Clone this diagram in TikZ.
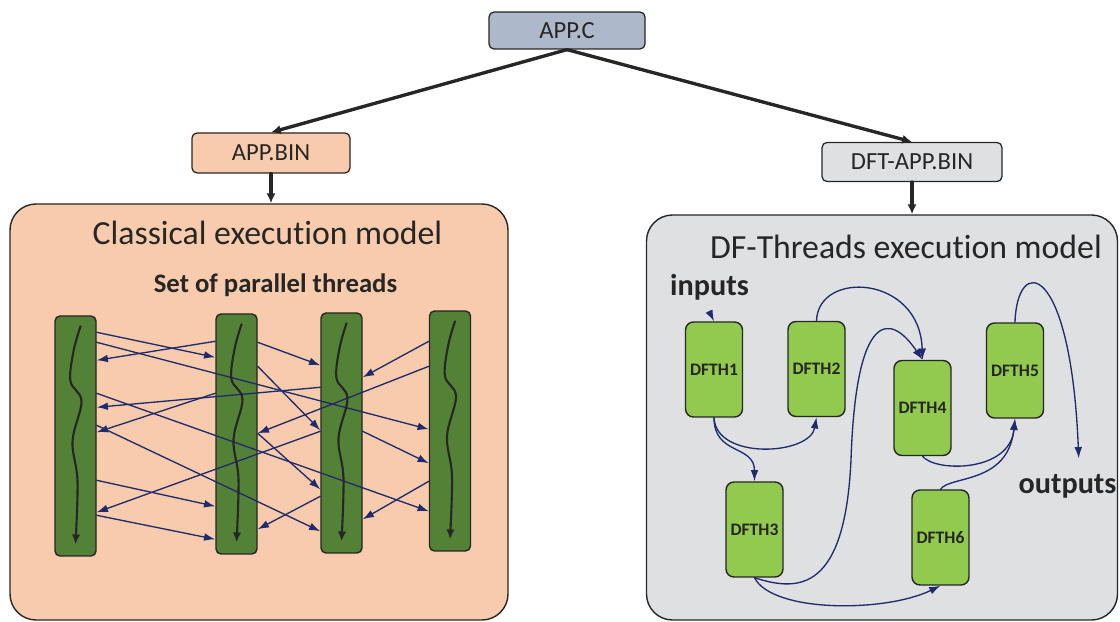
\documentclass[tikz,border=0pt]{standalone}
\usepackage{fontspec}
\setmainfont{Carlito}[Ligatures=NoCommon]
\usetikzlibrary{calc,positioning,arrows.meta}

\definecolor{peach}{HTML}{F8CBAD}
\definecolor{slate}{HTML}{ADB9CA}
\definecolor{panelgray}{HTML}{DFE0E2}
\definecolor{bargreen}{HTML}{538135}
\definecolor{dfgreen}{HTML}{92C94F}
\definecolor{navy}{HTML}{1F2B6C}
\definecolor{ink}{HTML}{262626}

\newlength\pu
\setlength\pu{0.025cm}

\tikzset{
  filebox/.style={draw=ink, line width=0.9pt, rounded corners=5\pu, text=ink,
    font=\fontsize{17.5}{20}\selectfont, inner sep=0pt},
  panel/.style={draw=ink, line width=1pt, rounded corners=26\pu, inner sep=0pt},
  bar/.style={draw=ink, fill=bargreen, line width=1pt, rounded corners=5\pu,
    minimum width=41\pu, minimum height=240\pu, inner sep=0pt},
  wiggle/.style={ink, line width=1.5pt, -{Latex[length=7pt,width=6pt]}},
  hop/.style={navy, line width=0.95pt, -{Latex[length=8pt,width=5.5pt]}},
  dfth/.style={draw=ink, fill=dfgreen, line width=1pt, rounded corners=8\pu,
    minimum width=57\pu, minimum height=95\pu, inner sep=0pt, text=ink,
    font=\fontsize{12.5}{14}\selectfont\bfseries},
  flow/.style={navy, line width=0.95pt, -{Latex[length=8pt,width=5.5pt]}},
  build/.style={ink, line width=2.4pt, -{Latex[length=7pt,width=6.5pt]}},
  title/.style={text=ink, inner sep=0pt, font=\fontsize{24}{28}\selectfont},
  tag/.style={text=ink, inner sep=0pt, font=\fontsize{21.5}{25}\selectfont\bfseries},
}

\begin{document}
\begin{tikzpicture}[x=0.025cm, y=-0.025cm, line cap=round]
  \useasboundingbox (0,0) rectangle (1120,622);

  \node[filebox, fill=slate, minimum width=156\pu, minimum height=37\pu] (appc) at (567,30.5) {APP.C};
  \node[filebox, fill=peach, minimum width=158\pu, minimum height=40\pu] (appbin) at (271,153) {APP.BIN};
  \node[filebox, fill=panelgray, minimum width=180\pu, minimum height=39\pu] (dftbin) at (912,162) {DFT-APP.BIN};

  \node[panel, fill=peach, minimum width=498\pu, minimum height=416\pu] (classic) at (259,412) {};
  \node[panel, fill=panelgray, minimum width=471\pu, minimum height=405\pu] (dfmodel) at (882,417.5) {};

  \draw[build] (appc.south) -- (appbin.north);
  \draw[build] (appc.south) -- (dftbin.north);
  \draw[build] (appbin.south) -- (appbin.south |- classic.north);
  \draw[build] (dftbin.south) -- (dftbin.south |- dfmodel.north);

  \node[title] (ctitle) at (267.5,233) {Classical execution model};
  \node[text=ink, inner sep=0pt, font=\fontsize{19}{22}\selectfont\bfseries] (threads) at (275.5,285.5) {Set of parallel threads};
  \node[title] (dtitle) at (906,246.5) {DF-Threads execution model};

  \node[bar] (b1) at (75.5,436) {};
  \node[bar] (b2) at (236.5,434) {};
  \node[bar] (b3) at (341.5,433) {};
  \node[bar] (b4) at (450,431) {};

  \foreach \s/\i/\t/\j in {
      b1.north east/17/b2.north west/44,
      b2.north west/28/b1.north east/45,
      b1.north east/27/b4.north west/119,
      b3.north west/75/b1.north east/92,
      b1.north east/78/b4.north west/201,
      b2.north west/80/b1.north east/117,
      b1.north east/110/b3.north west/219,
      b3.north west/119/b1.north east/197,
      b1.north east/165/b2.north west/193,
      b1.north east/200/b2.north west/226,
      b3.north west/184/b2.north east/216,
      b2.north east/29/b3.north west/53,
      b2.north east/53/b3.north west/118,
      b4.north west/56/b2.north east/120,
      b2.north east/120/b3.north west/177,
      b4.north west/31/b3.north east/65,
      b3.north east/119/b4.north west/153,
      b4.north west/171/b3.north east/207}
    \draw[hop] ($(\s)+(0,\i)$) -- ($(\t)+(0,\j)$);

  \foreach \b in {b1,b2,b3,b4}
    \draw[wiggle, shift={(\b.north)}] plot[smooth, tension=0.6]
      coordinates {(5,11) (-2,36) (-5,66) (6,86) (-3,126) (2,166) (0,229)};

  \node[tag] (inputs) at (709.5,287.5) {inputs};
  \node[tag] (outputs) at (1067.5,486) {outputs};

  \node[dfth] (d1) at (714,369.5) {DFTH1};
  \node[dfth] (d2) at (816.5,369) {DFTH2};
  \node[dfth] (d3) at (754.5,529.5) {DFTH3};
  \node[dfth] (d4) at (922.5,408) {DFTH4};
  \node[dfth] (d5) at (1015,370.5) {DFTH5};
  \node[dfth] (d6) at (940.5,537.5) {DFTH6};

  \draw[flow] ([yshift=-8pt]inputs.south) -- (d1.north);
  \draw[flow] (d1.south) .. controls +(2,43) and +(-6.5,38) .. (d2.south);
  \draw[flow] (d1.south) .. controls +(0,38) and +(0,-37) .. (d3.north);
  \draw[flow] (d2.north) .. controls +(1.5,-51) and +(-2.5,-85) .. (d4.north);
  \draw[flow] (d3.south) .. controls +(45.5,15) and +(-6,130) .. (851,460)
    .. controls +(5,-150) and +(-32.5,-48) .. (d4.north);
  \draw[flow] (d3.south) .. controls +(17.5,35) and +(-55.5,27) .. (d6.south);
  \draw[flow] (d4.south) .. controls +(12.5,16) and +(-5,54) .. (d5.south);
  \draw[flow] (d6.north) .. controls +(9.5,-14) and +(-7,66) .. (d5.south);
  \draw[flow] (d5.north) .. controls +(2,-68) and +(-8,-198) .. ([xshift=8pt, yshift=11pt]outputs.north);
\end{tikzpicture}
\end{document}
